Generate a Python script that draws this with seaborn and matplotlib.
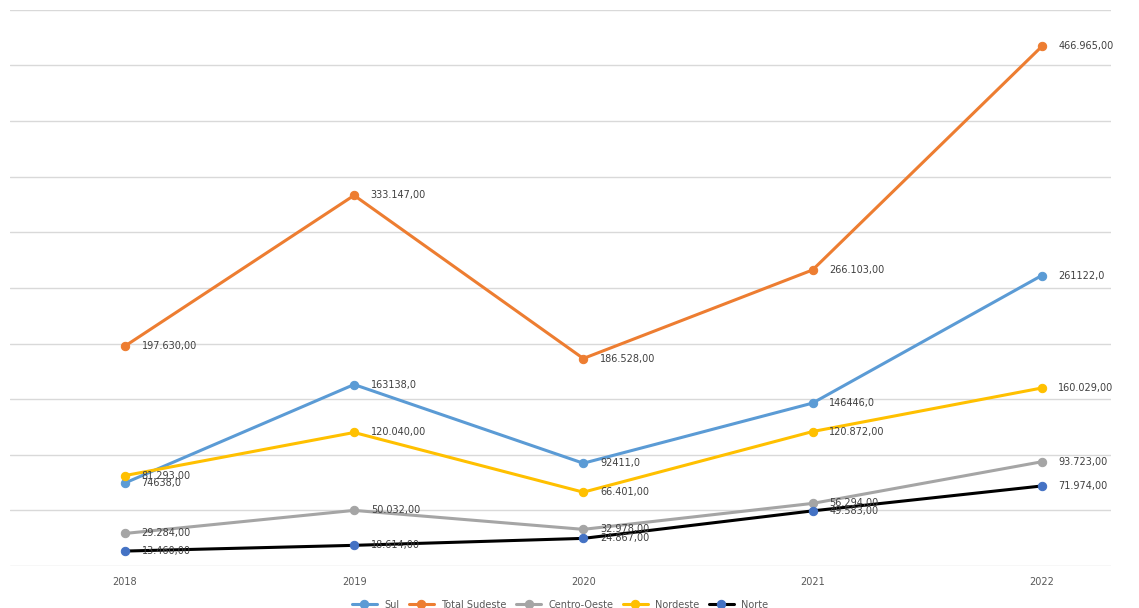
import matplotlib
matplotlib.use("Agg")
import matplotlib.pyplot as plt
import seaborn as sns
import pandas as pd

years = ["2018", "2019", "2020", "2021", "2022"]
sul = [74638, 163138, 92411, 146446, 261122]
sudeste = [197630, 333147, 186528, 266103, 466965]
centro_oeste = [29284, 50032, 32978, 56294, 93723]
nordeste = [81293, 120040, 66401, 120872, 160029]
norte = [13460, 18614, 24867, 49583, 71974]

sul_labels = ["74638,0", "163138,0", "92411,0", "146446,0", "261122,0"]
sudeste_labels = ["197.630,00", "333.147,00", "186.528,00", "266.103,00", "466.965,00"]
co_labels = ["29.284,00", "50.032,00", "32.978,00", "56.294,00", "93.723,00"]
ne_labels = ["81.293,00", "120.040,00", "66.401,00", "120.872,00", "160.029,00"]
norte_labels = ["13.460,00", "18.614,00", "24.867,00", "49.583,00", "71.974,00"]

series = [
    ("Sul", sul, sul_labels, "#5B9BD5", "#5B9BD5"),
    ("Total Sudeste", sudeste, sudeste_labels, "#ED7D31", "#ED7D31"),
    ("Centro-Oeste", centro_oeste, co_labels, "#A5A5A5", "#A5A5A5"),
    ("Nordeste", nordeste, ne_labels, "#FFC000", "#FFC000"),
    ("Norte", norte, norte_labels, "#000000", "#4472C4"),
]

sns.set_style("white")
fig = plt.figure(figsize=(11.39, 6.08), dpi=100)
ax = fig.add_axes([0.009, 0.069, 0.966, 0.915])

x = list(range(len(years)))
for name, vals, labels, lc, mc in series:
    df = pd.DataFrame({"x": x, "v": vals})
    sns.lineplot(data=df, x="x", y="v", ax=ax, color=lc, linewidth=2.2,
                 marker="o", markersize=6, markerfacecolor=mc,
                 markeredgecolor=mc, label=name)
    for xi, v, lab in zip(x, vals, labels):
        ax.annotate(lab, (xi, v), xytext=(12, 0), textcoords="offset points",
                    va="center", ha="left", fontsize=7, color="#404040")

ax.set_xlim(-0.5, 4.3)
ax.set_ylim(0, 500000)
ax.set_yticks(range(0, 500001, 50000))
ax.set_yticklabels([])
ax.tick_params(axis="y", length=0)
ax.set_xticks(x)
ax.set_xticklabels(years, fontsize=7, color="#595959")
ax.tick_params(axis="x", length=0, pad=8)
ax.grid(axis="y", color="#D9D9D9", linewidth=1)
for s in ax.spines.values():
    s.set_visible(False)
ax.set_xlabel("")
ax.set_ylabel("")
ax.legend(loc="upper center", bbox_to_anchor=(0.5, -0.045), ncol=5,
          frameon=False, fontsize=7, handlelength=2.5, columnspacing=1.0,
          labelcolor="#595959")

fig.savefig("out.png", dpi=100)
